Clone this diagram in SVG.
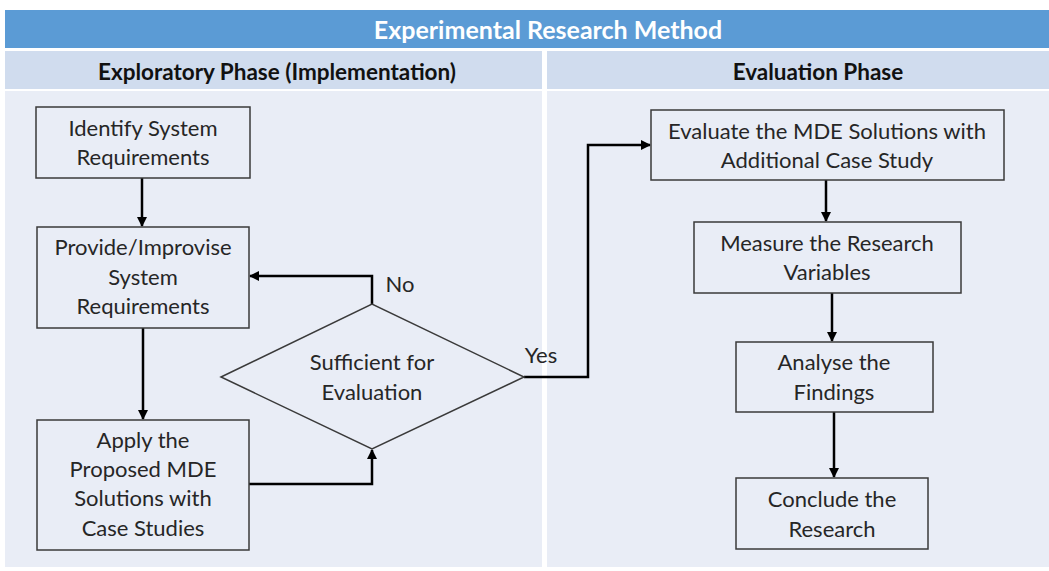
<svg xmlns="http://www.w3.org/2000/svg" width="1049" height="571" viewBox="0 0 1049 571">
  <defs>
    <marker id="arrow" viewBox="0 0 10 10" refX="9" refY="5" markerWidth="4" markerHeight="4" orient="auto" markerUnits="strokeWidth">
      <path d="M0,0 L10,5 L0,10 z" fill="#000"/>
    </marker>
    <style>
      .title { font-family: Lato, "Liberation Sans", sans-serif; font-weight: bold; font-size: 25px; fill: #ffffff; text-anchor: middle; }
      .head { font-family: Lato, "Liberation Sans", sans-serif; font-weight: bold; font-size: 22.5px; fill: #111111; text-anchor: middle; }
      .box { fill: none; stroke: #3a3a3a; stroke-width: 1.5; }
      .lbl { font-family: Lato, "Liberation Sans", sans-serif; font-size: 22px; fill: #262626; text-anchor: middle; }
      .conn { fill: none; stroke: #000; stroke-width: 2.5; }
    </style>
  </defs>

  <rect width="1049" height="571" fill="#ffffff"/>

  <!-- banner and phase columns -->
  <rect x="5" y="10" width="1044" height="38" fill="#5b9bd5"/>
  <text class="title" x="548" y="39">Experimental Research Method</text>
  <rect x="5" y="51" width="537" height="38" fill="#d0dcee"/>
  <rect x="547" y="51" width="502" height="38" fill="#d0dcee"/>
  <text class="head" x="277" y="80">Exploratory Phase (Implementation)</text>
  <text class="head" x="818" y="80">Evaluation Phase</text>
  <rect x="5" y="91" width="537" height="476" fill="#e9edf6"/>
  <rect x="547" y="91" width="502" height="476" fill="#e9edf6"/>

  <!-- connectors -->
  <g id="connectors">
    <path class="conn" d="M142,178 L142,226" marker-end="url(#arrow)"/>
    <path class="conn" d="M143,328 L143,419" marker-end="url(#arrow)"/>
    <path class="conn" d="M372,304 L372,276 L250,276" marker-end="url(#arrow)"/>
    <path class="conn" d="M249,484 L372,484 L372,450" marker-end="url(#arrow)"/>
    <path class="conn" d="M524,377 L588,377 L588,145 L650,145" marker-end="url(#arrow)"/>
    <path class="conn" d="M826,180 L826,221" marker-end="url(#arrow)"/>
    <path class="conn" d="M832,293 L832,341" marker-end="url(#arrow)"/>
    <path class="conn" d="M834,412 L834,477" marker-end="url(#arrow)"/>
    <text class="lbl" x="400" y="292">No</text>
    <text class="lbl" x="541" y="363">Yes</text>
  </g>

  <g id="identify">
    <rect class="box" x="36" y="107" width="214" height="71"/>
    <text class="lbl" x="143" y="136">Identify System</text>
    <text class="lbl" x="143" y="165">Requirements</text>
  </g>

  <g id="provide">
    <rect class="box" x="37" y="227" width="212" height="101"/>
    <text class="lbl" x="143" y="255">Provide/Improvise</text>
    <text class="lbl" x="143" y="285">System</text>
    <text class="lbl" x="143" y="314">Requirements</text>
  </g>

  <g id="apply">
    <rect class="box" x="37" y="420" width="212" height="130"/>
    <text class="lbl" x="143" y="448">Apply the</text>
    <text class="lbl" x="143" y="477">Proposed MDE</text>
    <text class="lbl" x="143" y="506">Solutions with</text>
    <text class="lbl" x="143" y="536">Case Studies</text>
  </g>

  <g id="decision">
    <polygon class="box" points="221,377 372,304 524,377 372,449"/>
    <text class="lbl" x="372" y="370">Sufficient for</text>
    <text class="lbl" x="372" y="400">Evaluation</text>
  </g>

  <g id="evaluate">
    <rect class="box" x="651" y="110" width="353" height="70"/>
    <text class="lbl" x="827" y="139">Evaluate the MDE Solutions with</text>
    <text class="lbl" x="827" y="168">Additional Case Study</text>
  </g>

  <g id="measure">
    <rect class="box" x="694" y="222" width="267" height="71"/>
    <text class="lbl" x="827" y="251">Measure the Research</text>
    <text class="lbl" x="827" y="280">Variables</text>
  </g>

  <g id="analyse">
    <rect class="box" x="736" y="342" width="197" height="70"/>
    <text class="lbl" x="834" y="370">Analyse the</text>
    <text class="lbl" x="834" y="400">Findings</text>
  </g>

  <g id="conclude">
    <rect class="box" x="736" y="478" width="192" height="71"/>
    <text class="lbl" x="832" y="507">Conclude the</text>
    <text class="lbl" x="832" y="537">Research</text>
  </g>
</svg>
